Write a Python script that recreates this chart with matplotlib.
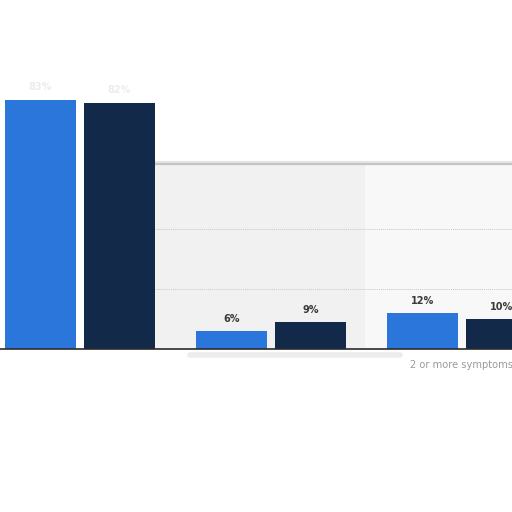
import numpy as np
import matplotlib.pyplot as plt
from matplotlib.patches import Rectangle

# data
groups = ['', '', '2 or more symptoms']
series_a = [83, 6, 12]
series_b = [82, 9, 10]
label_colors = ['#ececec', '#3a3a3a', '#3a3a3a']

BLUE = '#2a76da'
NAVY = '#12294a'

fig = plt.figure(figsize=(5.12, 5.12), dpi=100)
ax = fig.add_axes([0, 0, 1, 1])

x = np.arange(len(groups))
width = 0.372
offset = 0.207

ax.set_xlim(-0.419, 2.262)
ax.set_ylim(-54.33, 116.33)

# blurred overlay area behind the small bars
ax.add_patch(Rectangle((155 / 512, 163 / 512), 210 / 512, 185 / 512, transform=ax.transAxes,
                       facecolor='#f1f1f1', edgecolor='none', zorder=0))
ax.add_patch(Rectangle((365 / 512, 163 / 512), 147 / 512, 185 / 512, transform=ax.transAxes,
                       facecolor='#f8f8f8', edgecolor='none', zorder=0))
ax.plot([155 / 512, 1], [348 / 512, 348 / 512], transform=ax.transAxes, color='#c4c4c4', lw=1.6, zorder=1)
ax.plot([155 / 512, 1], [349 / 512, 349 / 512], transform=ax.transAxes, color='#e6e6e6', lw=3, zorder=0.9)
# soft shadow under the baseline
ax.plot([190 / 512, 400 / 512], [157 / 512, 157 / 512], transform=ax.transAxes, color='#ececec', lw=4,
        solid_capstyle='round', zorder=0.5)

for gy in [20, 40]:
    ax.axhline(gy, xmin=155 / 512, xmax=1, color='#c8c8c8', lw=0.7, ls=(0, (1, 1)), zorder=1)

ax.bar(x - offset, series_a, width, color=BLUE, zorder=2)
ax.bar(x + offset, series_b, width, color=NAVY, zorder=2)
ax.axhline(0, color='#2b2b2b', lw=1.2, zorder=3)

for i in range(len(groups)):
    ax.text(x[i] - offset, series_a[i] + 2.5, f'{series_a[i]}%', ha='center', va='bottom',
            fontsize=7, fontweight='bold', color=label_colors[i], zorder=4)
    ax.text(x[i] + offset, series_b[i] + 2.5, f'{series_b[i]}%', ha='center', va='bottom',
            fontsize=7, fontweight='bold', color=label_colors[i], zorder=4)
    if groups[i]:
        ax.text(x[i] - 0.005, -3.5, groups[i], ha='center', va='top', fontsize=7.1, color='#9a9a9a', zorder=4)

ax.set_axis_off()
fig.savefig('out.png', dpi=100, facecolor='white')
